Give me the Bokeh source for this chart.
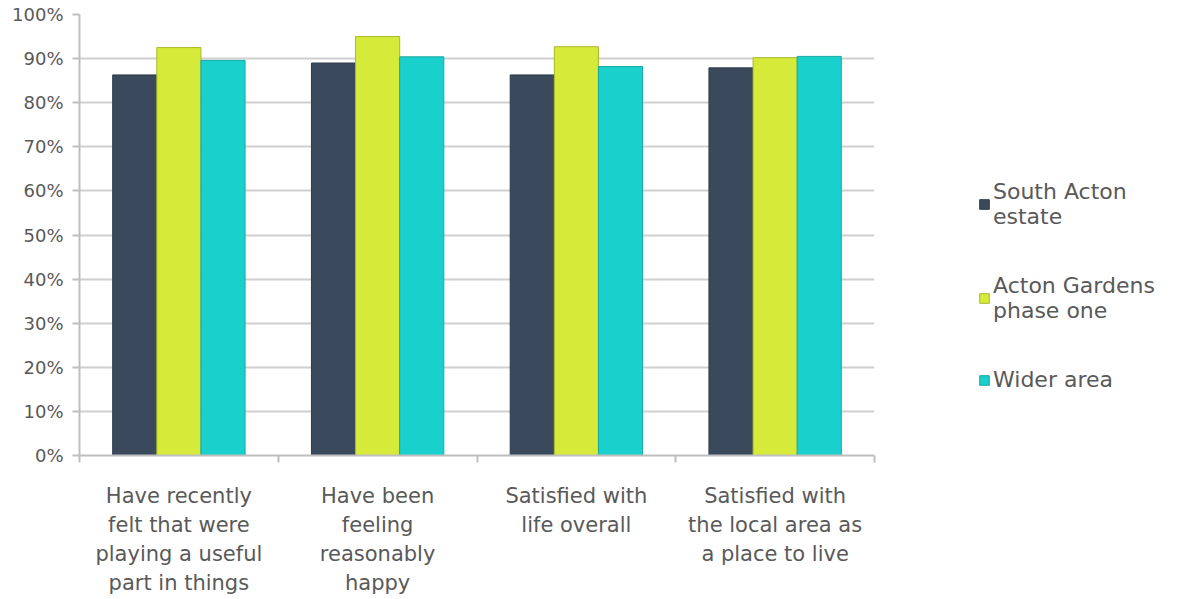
from bokeh.plotting import figure
from bokeh.models import (ColumnDataSource, FixedTicker, Legend, LegendItem,
                          PrintfTickFormatter, Range1d, LinearAxis)
from bokeh.embed import file_html
from bokeh.resources import INLINE

categories = [
    "Have recently\nfelt that were\nplaying a useful\npart in things",
    "Have been\nfeeling\nreasonably\nhappy",
    "Satisfied with\nlife overall",
    "Satisfied with\nthe local area as\na place to live",
]
series_names = ["South Acton\nestate", "Acton Gardens\nphase one", "Wider area"]
south_acton = [86.3, 89.0, 86.3, 87.9]
acton_gardens = [92.5, 95.0, 92.7, 90.2]
wider_area = [89.6, 90.4, 88.2, 90.5]
y_ticks = [0, 10, 20, 30, 40, 50, 60, 70, 80, 90, 100]

colors = ["#3a4a5c", "#d6ea3a", "#1ad0cc"]
outlines = ["#2e3b4a", "#a9b82a", "#17a8a5"]
FONT = "DejaVu Sans"
TEXT = "#595959"
CAT_SIZE = "21px"

p = figure(frame_width=795, frame_height=441, output_backend="svg", toolbar_location=None,
           x_range=Range1d(0, len(categories)), y_range=Range1d(0, 100),
           min_border_left=79, min_border_top=14, min_border_right=0,
           min_border_bottom=0, x_axis_location=None)
p.outline_line_color = None
p.background_fill_color = "white"

centers = [i + 0.5 for i in range(len(categories))]
bar_w = 0.222
offsets = [-bar_w, 0.0, bar_w]
renderers = []
for vals, off, c, oc in zip([south_acton, acton_gardens, wider_area], offsets, colors, outlines):
    src = ColumnDataSource(dict(x=[cx + off for cx in centers], top=vals))
    r = p.vbar(x="x", top="top", width=bar_w, bottom=0, source=src,
               fill_color=c, line_color=oc, line_width=1)
    renderers.append(r)

# x axis: one axis per text line so that line spacing can be controlled
lines = [c.split("\n") for c in categories]
n_lines = max(len(l) for l in lines)
for k in range(n_lines):
    ax = LinearAxis()
    ax.ticker = FixedTicker(ticks=centers, minor_ticks=list(range(len(categories) + 1)) if k == 0 else [])
    ax.major_label_overrides = {cx: (l[k] if k < len(l) else " ") for cx, l in zip(centers, lines)}
    ax.major_tick_line_color = None
    ax.major_tick_out = 0
    ax.major_tick_in = 0
    ax.minor_tick_in = 0
    if k == 0:
        ax.minor_tick_line_color = "#bfbfbf"
        ax.minor_tick_line_width = 2
        ax.minor_tick_out = 7
        ax.axis_line_color = "#bfbfbf"
        ax.axis_line_width = 2
        ax.major_label_standoff = 21
    else:
        ax.minor_tick_line_color = None
        ax.minor_tick_out = 0
        ax.axis_line_color = None
        ax.major_label_standoff = 2
    ax.major_label_text_font = FONT
    ax.major_label_text_font_size = CAT_SIZE
    ax.major_label_text_color = TEXT
    p.add_layout(ax, "below")
p.xgrid.visible = False

# y axis
p.yaxis.ticker = FixedTicker(ticks=y_ticks)
p.yaxis.formatter = PrintfTickFormatter(format="%d%%")
p.yaxis.axis_line_color = "#bfbfbf"
p.yaxis.axis_line_width = 2
p.yaxis.major_tick_line_color = "#bfbfbf"
p.yaxis.major_tick_line_width = 2
p.yaxis.major_tick_out = 7
p.yaxis.major_tick_in = 0
p.yaxis.minor_tick_line_color = None
p.yaxis.major_label_text_font = FONT
p.yaxis.major_label_text_font_size = "18px"
p.yaxis.major_label_text_color = TEXT
p.yaxis.major_label_standoff = 9
p.ygrid.grid_line_color = "#cfcfcf"
p.ygrid.grid_line_width = 2

legend = Legend(items=[LegendItem(label=n, renderers=[r]) for n, r in zip(series_names, renderers)],
                location=(104, 63), border_line_color=None, background_fill_alpha=0,
                label_text_font=FONT, label_text_font_size="22px", label_text_color=TEXT,
                glyph_width=12, glyph_height=12, label_standoff=3, spacing=44,
                padding=0, margin=0)
p.add_layout(legend, "right")

open("out.html", "w").write(file_html(p, INLINE))
